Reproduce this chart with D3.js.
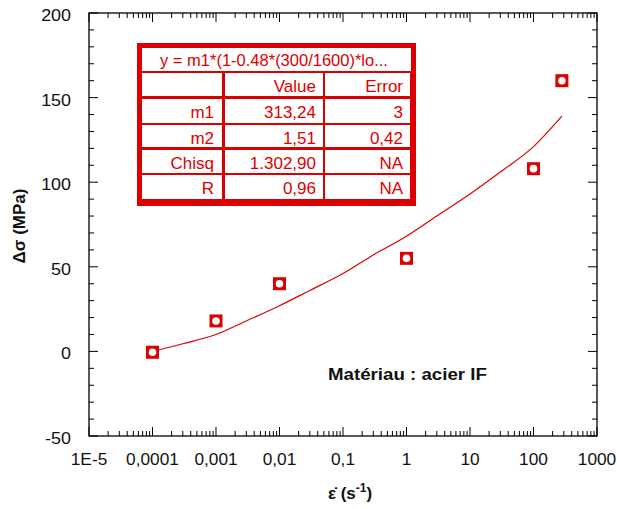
<!DOCTYPE html>
<html><head><meta charset="utf-8">
<script src="https://cdn.jsdelivr.net/npm/d3@7"></script>
<style>body{margin:0;background:#fff}svg{display:block}text{font-family:"Liberation Sans",Arial,sans-serif}</style>
</head><body><svg id="c" width="617" height="509"></svg>
<script>
// ---- data ----
const pointX = [0.0001, 0.001, 0.01, 1, 100, 280];
const pointY = [-0.5, 18, 40, 55, 108, 160];
const fitX = [0.0001, 0.0003, 0.001, 0.003, 0.01, 0.03, 0.1, 0.3, 1, 3, 10, 30, 100, 280];
const fitY = [0, 4.5, 10, 18, 27, 36, 46, 57, 68, 80, 93, 106, 121, 139];
const xTickValues = [1e-5, 1e-4, 1e-3, 1e-2, 1e-1, 1, 10, 100, 1000];
const xTickLabels = ["1E-5", "0,0001", "0,001", "0,01", "0,1", "1", "10", "100", "1000"];
const yTickValues = [-50, 0, 50, 100, 150, 200];
const yTickLabels = ["-50", "0", "50", "100", "150", "200"];
const tableTitle = "y = m1*(1-0.48*(300/1600)*lo...";
const tableHeader = ["", "Value", "Error"];
const tableRows = [["m1", "313,24", "3"], ["m2", "1,51", "0,42"], ["Chisq", "1.302,90", "NA"], ["R", "0,96", "NA"]];
const annotation = "Matériau : acier IF";

const RED = "#dd0000";
const svg = d3.select("#c");
const L = 89, R = 597, T = 13, B = 436;
const x = d3.scaleLog().domain([1e-5, 1000]).range([L, R]);
const y = d3.scaleLinear().domain([-50, 200]).range([B, T]);

// frame
svg.append("rect").attr("x", L).attr("y", T).attr("width", R - L).attr("height", B - T)
  .attr("fill", "none").attr("stroke", "#000").attr("stroke-width", 1.3);

// minor/major ticks
const g = svg.append("g").attr("stroke", "#000").attr("stroke-width", 1);
const xMinor = [];
for (let e = -5; e < 3; e++) for (let m = 2; m <= 9; m++) xMinor.push(m * Math.pow(10, e));
xMinor.forEach(v => {
  g.append("line").attr("x1", x(v)).attr("x2", x(v)).attr("y1", B).attr("y2", B - 5);
  g.append("line").attr("x1", x(v)).attr("x2", x(v)).attr("y1", T).attr("y2", T + 5);
});
xTickValues.forEach(v => {
  g.append("line").attr("x1", x(v)).attr("x2", x(v)).attr("y1", B).attr("y2", B - 9);
  g.append("line").attr("x1", x(v)).attr("x2", x(v)).attr("y1", T).attr("y2", T + 9);
});
d3.range(-50, 201, 10).forEach(v => {
  const major = v % 50 === 0;
  const len = major ? 9 : 5;
  g.append("line").attr("x1", L).attr("x2", L + len).attr("y1", y(v)).attr("y2", y(v));
  g.append("line").attr("x1", R).attr("x2", R - len).attr("y1", y(v)).attr("y2", y(v));
});

// tick labels
svg.append("g").selectAll("text").data(yTickValues).join("text")
  .attr("transform", d => `translate(71,${y(d) + 8}) scale(1.12,1)`)
  .attr("text-anchor", "end").attr("font-size", 16).attr("fill", "#111")
  .text((d, i) => yTickLabels[i]);
svg.append("g").selectAll("text").data(xTickValues).join("text")
  .attr("transform", d => `translate(${x(d)},465) scale(1.08,1)`)
  .attr("text-anchor", "middle").attr("font-size", 16).attr("fill", "#111")
  .text((d, i) => xTickLabels[i]);

// axis titles
svg.append("text").attr("transform", "translate(25,226) rotate(-90)")
  .attr("text-anchor", "middle").attr("font-size", 17).attr("font-weight", "bold").attr("fill", "#111")
  .text("Δσ (MPa)");
const xt = svg.append("text").attr("transform", "translate(350,499)")
  .attr("text-anchor", "middle").attr("font-size", 17).attr("font-weight", "bold").attr("fill", "#111");
xt.append("tspan").text("ε\u0307 (s");
xt.append("tspan").attr("dy", -7).attr("font-size", 12).text("-1");
xt.append("tspan").attr("dy", 7).text(")");

// fit curve
svg.append("path").datum(fitX.map((v, i) => [v, fitY[i]]))
  .attr("d", d3.line().x(d => x(d[0])).y(d => y(d[1])).curve(d3.curveMonotoneX))
  .attr("fill", "none").attr("stroke", RED).attr("stroke-width", 1.2);

// markers
const pts = svg.append("g").selectAll("g").data(pointX.map((v, i) => [v, pointY[i]])).join("g")
  .attr("transform", d => `translate(${x(d[0])},${y(d[1])})`);
pts.append("rect").attr("x", -6.5).attr("y", -6.5).attr("width", 13).attr("height", 13).attr("fill", RED);
pts.append("circle").attr("r", 3.8).attr("fill", "#fff");

// annotation
svg.append("text").attr("transform", "translate(328,380) scale(1.1,1)")
  .attr("font-size", 17).attr("font-weight", "bold").attr("fill", "#111").text(annotation);

// table
const tb = svg.append("g");
tb.append("rect").attr("x", 137).attr("y", 43).attr("width", 279).attr("height", 163).attr("fill", RED);
tb.append("rect").attr("x", 142).attr("y", 48).attr("width", 269).attr("height", 23).attr("fill", "#fff");
tb.append("text").attr("x", 274).attr("y", 66).attr("text-anchor", "middle").attr("font-size", 16.5)
  .attr("fill", RED).text(tableTitle);
const colX = [[142, 222], [225, 323], [325, 410]];
const rowTop = [73, 99, 125, 150, 175];
const rowH = [23, 24, 22, 23, 24];
const allRows = [tableHeader].concat(tableRows);
allRows.forEach((row, ri) => {
  row.forEach((cell, ci) => {
    tb.append("rect").attr("x", colX[ci][0]).attr("y", rowTop[ri])
      .attr("width", colX[ci][1] - colX[ci][0]).attr("height", rowH[ri]).attr("fill", "#fff");
    const rx = ci === 0 ? 214 : colX[ci][1] - 7;
    tb.append("text").attr("x", rx).attr("y", rowTop[ri] + 19).attr("text-anchor", "end")
      .attr("font-size", 17).attr("fill", RED).text(cell);
  });
});
</script></body></html>
